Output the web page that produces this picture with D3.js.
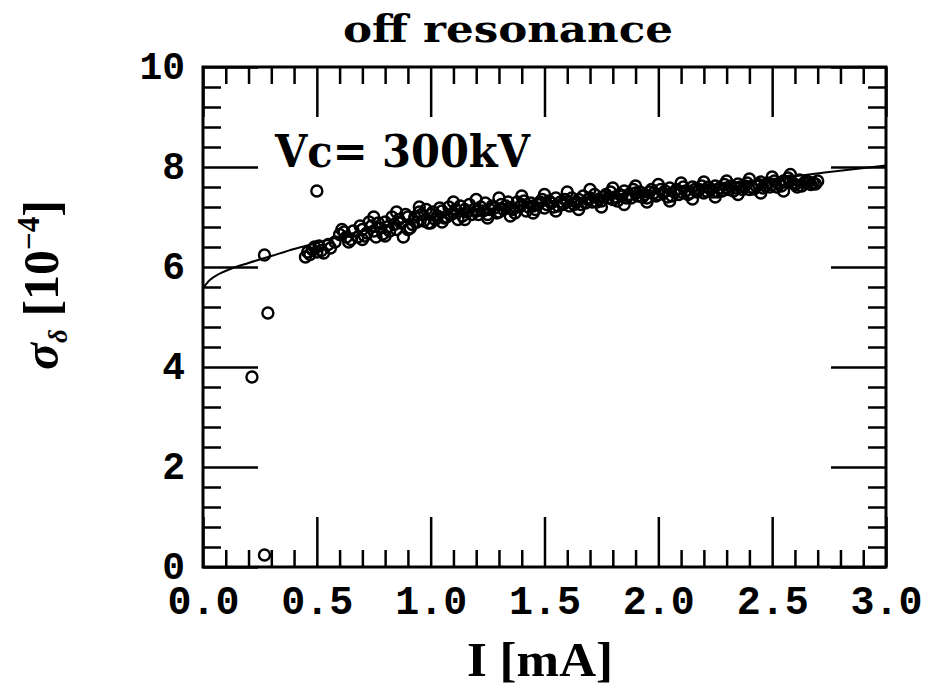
<!DOCTYPE html>
<html><head><meta charset="utf-8">
<script src="https://cdn.jsdelivr.net/npm/d3@7"></script>
<style>body{margin:0;background:#fff}</style>
</head><body>
<svg id="c" width="932" height="693"></svg>
<script>
const xMajor = [0.0, 0.5, 1.0, 1.5, 2.0, 2.5, 3.0];
const xMinor = [0.1,0.2,0.3,0.4,0.6,0.7,0.8,0.9,1.1,1.2,1.3,1.4,1.6,1.7,1.8,1.9,2.1,2.2,2.3,2.4,2.6,2.7,2.8,2.9];
const yMajor = [0, 2, 4, 6, 8, 10];
const yMinor = [0.4,0.8,1.2,1.6,2.4,2.8,3.2,3.6,4.4,4.8,5.2,5.6,6.4,6.8,7.2,7.6,8.4,8.8,9.2,9.6];
const xTickLabels = ["0.0","0.5","1.0","1.5","2.0","2.5","3.0"];
const yTickLabels = ["0","2","4","6","8","10"];

// measured points: current I [mA]
const current = [0.215,0.27,0.27,0.285,0.50,
 0.45,0.46,0.47,0.48,0.49,0.50,0.51,0.52,0.55,
 0.60,0.62,0.65,0.68,0.70,0.72,0.74,0.76,0.78,0.80,0.82,0.84,0.86,0.88,0.90,0.92,0.95,0.97,
 1.00,1.02,1.05,1.07,1.10,1.12,1.15,1.18,1.20,1.22,1.25,1.28,1.30,1.33,1.36,1.40,1.42,1.45,1.48,
 1.50,1.53,1.56,1.60,1.63,1.65,1.68,1.70,1.73,1.76,1.80,1.83,1.86,1.90,1.93,1.96,
 2.00,2.03,2.06,2.10,2.13,2.16,2.20,2.23,2.26,2.30,2.33,2.36,2.40,2.43,2.46,
 2.50,2.52,2.55,2.57,2.60,2.63,2.66,2.68,2.70,0.61,0.95,1.38,
 0.53,0.56,0.58,0.63,0.66,0.69,0.71,0.73,0.75,0.77,0.79,0.81,0.83,0.85,0.87,0.89,0.91,0.93,0.94,0.96,0.98,0.99,
 1.01,1.03,1.04,1.06,1.08,1.09,1.11,1.13,1.14,1.16,1.17,1.19,1.21,1.23,1.24,1.26,1.27,1.29,1.31,1.32,1.34,1.35,1.37,1.39,
 1.41,1.43,1.44,1.46,1.47,1.49,1.51,1.52,1.54,1.55,1.57,1.58,1.59,1.61,1.62,1.64,1.66,1.67,1.69,1.71,1.72,1.74,1.75,1.77,1.78,1.79,
 1.81,1.82,1.84,1.85,1.87,1.88,1.89,1.91,1.92,1.94,1.95,1.97,1.98,1.99,
 2.01,2.02,2.04,2.05,2.07,2.08,2.09,2.11,2.12,2.14,2.15,2.17,2.18,2.19,2.21,2.22,2.24,2.25,2.27,2.28,2.29,
 2.31,2.32,2.34,2.35,2.37,2.38,2.39,2.41,2.42,2.44,2.45,2.47,2.48,2.49,
 2.51,2.53,2.54,2.56,2.58,2.59,2.61,2.62,2.64,2.65,2.67,2.69,
 0.64,0.70,0.80,0.90,1.00,1.05,1.15,1.25,1.35,1.45,1.55,1.65,1.75,1.85,1.95,2.05,2.15,2.25,2.35,2.45,2.55,
 1.10,1.20,1.30,1.40,1.50,1.60,1.70,1.80,1.90,2.00,2.10,2.20,2.30,2.40,2.50,2.58,0.85,0.75];
// sigma_delta [1e-4]
const sigma = [3.8,0.24,6.24,5.08,7.52,
 6.2,6.3,6.25,6.35,6.4,6.3,6.42,6.33,6.45,
 6.65,6.7,6.55,6.6,6.75,6.68,6.82,6.6,6.78,6.9,6.72,6.85,6.95,6.6,7.0,6.85,7.1,6.92,
 7.05,6.95,7.12,7.0,7.08,6.95,7.15,7.05,7.12,7.2,7.05,7.18,7.1,7.22,7.15,7.25,7.12,7.22,7.3,
 7.18,7.28,7.22,7.3,7.25,7.35,7.28,7.38,7.3,7.4,7.35,7.45,7.38,7.48,7.4,7.5,
 7.45,7.52,7.42,7.5,7.45,7.55,7.48,7.55,7.5,7.58,7.52,7.6,7.55,7.62,7.58,
 7.65,7.6,7.72,7.78,7.65,7.62,7.7,7.68,7.72,6.75,7.2,7.3,
 6.28,6.38,6.5,6.6,6.72,6.82,6.62,6.9,6.72,6.88,6.66,6.8,7.0,6.75,6.88,7.05,6.78,7.0,6.9,7.05,7.15,6.88,
 7.1,7.02,7.18,6.98,7.2,7.05,7.15,7.22,7.02,7.1,7.25,7.15,7.05,7.12,7.28,7.15,7.22,7.08,7.25,7.15,7.3,7.18,7.08,7.2,
 7.32,7.2,7.28,7.15,7.25,7.35,7.25,7.32,7.2,7.38,7.3,7.25,7.35,7.22,7.38,7.3,7.25,7.42,7.35,7.3,7.45,7.36,7.32,7.45,7.38,7.5,
 7.4,7.32,7.42,7.52,7.45,7.38,7.55,7.42,7.5,7.45,7.38,7.55,7.48,7.42,
 7.55,7.48,7.4,7.58,7.5,7.55,7.45,7.6,7.52,7.48,7.6,7.5,7.55,7.62,7.52,7.6,7.5,7.62,7.58,7.52,7.65,
 7.55,7.62,7.58,7.66,7.55,7.62,7.68,7.6,7.56,7.65,7.7,7.62,7.68,7.6,
 7.72,7.66,7.62,7.7,7.72,7.68,7.6,7.74,7.68,7.72,7.65,7.66,
 6.5,6.55,6.62,6.75,6.88,6.9,6.95,6.98,7.02,7.08,7.12,7.15,7.2,7.25,7.3,7.32,7.36,7.4,7.45,7.48,7.52,
 7.3,7.35,7.38,7.42,7.45,7.5,7.55,7.58,7.62,7.65,7.68,7.7,7.72,7.76,7.8,7.85,7.1,7.0];

// fit curve
const fitI = [0.0,0.03,0.07,0.12,0.2,0.3,0.4,0.5,0.75,1.0,1.25,1.5,1.75,2.0,2.25,2.5,2.75,3.0];
const fitS = [5.58,5.74,5.86,5.96,6.08,6.22,6.36,6.48,6.78,7.0,7.16,7.3,7.42,7.54,7.65,7.76,7.9,8.03];

const svg = d3.select("#c");
const L = 203, R = 886, T = 67, B = 567;
const x = d3.scaleLinear().domain([0,3]).range([L,R]);
const y = d3.scaleLinear().domain([0,10]).range([B,T]);
const font = "'Liberation Mono', 'Courier New', monospace";
const serif = "'DejaVu Serif', 'Liberation Serif', serif";

function styleAxis(g){ g.select(".domain").remove(); g.selectAll("line").attr("stroke","#000").attr("stroke-width",2.5); }

// bottom
svg.append("g").attr("transform",`translate(0,${B})`)
  .call(d3.axisBottom(x).tickValues(xMajor).tickSize(-50).tickPadding(19).tickFormat((d,i)=>xTickLabels[i]))
  .call(styleAxis)
  .selectAll("text").attr("font-family",font).attr("font-weight","bold").attr("font-size",40).attr("fill","#000");
svg.append("g").attr("transform",`translate(0,${B})`)
  .call(d3.axisBottom(x).tickValues(xMinor).tickSize(-17).tickFormat("")).call(styleAxis);
// top
svg.append("g").attr("transform",`translate(0,${T})`)
  .call(d3.axisTop(x).tickValues(xMajor).tickSize(-50).tickFormat("")).call(styleAxis);
svg.append("g").attr("transform",`translate(0,${T})`)
  .call(d3.axisTop(x).tickValues(xMinor).tickSize(-17).tickFormat("")).call(styleAxis);
// left
svg.append("g").attr("transform",`translate(${L},0)`)
  .call(d3.axisLeft(y).tickValues(yMajor).tickSize(-55).tickPadding(18).tickFormat((d,i)=>yTickLabels[i]))
  .call(styleAxis)
  .selectAll("text").attr("font-family",font).attr("font-weight","bold").attr("font-size",38).attr("fill","#000")
  .attr("dy","0.3em");
svg.append("g").attr("transform",`translate(${L},0)`)
  .call(d3.axisLeft(y).tickValues(yMinor).tickSize(-18).tickFormat("")).call(styleAxis);
// right
svg.append("g").attr("transform",`translate(${R},0)`)
  .call(d3.axisRight(y).tickValues(yMajor).tickSize(-55).tickFormat("")).call(styleAxis);
svg.append("g").attr("transform",`translate(${R},0)`)
  .call(d3.axisRight(y).tickValues(yMinor).tickSize(-18).tickFormat("")).call(styleAxis);

// frame
svg.append("rect").attr("x",L).attr("y",T).attr("width",R-L).attr("height",B-T)
  .attr("fill","none").attr("stroke","#000").attr("stroke-width",3);

// fit line
const line = d3.line().x((d,i)=>x(fitI[i])).y((d,i)=>y(fitS[i])).curve(d3.curveMonotoneX);
svg.append("path").datum(fitI).attr("d",line).attr("fill","none").attr("stroke","#000").attr("stroke-width",2);

// points
svg.append("g").selectAll("circle").data(current).join("circle")
  .attr("cx",(d)=>x(d)).attr("cy",(d,i)=>y(sigma[i])).attr("r",5.5)
  .attr("fill","none").attr("stroke","#000").attr("stroke-width",2.4);

// title
svg.append("text").attr("x",508).attr("y",42).attr("text-anchor","middle")
  .attr("font-family",serif).attr("font-weight","bold").attr("font-size",38)
  .attr("textLength",330).attr("lengthAdjust","spacingAndGlyphs").text("off resonance");
// annotation
svg.append("text").attr("x",275).attr("y",167)
  .attr("font-family",serif).attr("font-weight","bold").attr("font-size",44)
  .attr("textLength",255).attr("lengthAdjust","spacingAndGlyphs").text("Vc= 300kV");
// x label
svg.append("text").attr("x",467).attr("y",676)
  .attr("font-family","'Liberation Serif', serif").attr("font-weight","bold").attr("font-size",48)
  .attr("textLength",146).attr("lengthAdjust","spacingAndGlyphs").text("I [mA]");
// y label
const yl = svg.append("text").attr("transform","translate(58,285) rotate(-90)").attr("text-anchor","middle")
  .attr("font-family","'Liberation Serif', serif").attr("font-weight","bold").attr("font-size",50);
yl.append("tspan").attr("font-style","italic").text("σ");
yl.append("tspan").attr("font-size",27).attr("dy",9).attr("font-style","italic").text("δ");
yl.append("tspan").attr("dy",-9).text("  [10");
yl.append("tspan").attr("font-size",31).attr("dy",-19).text("−4");
yl.append("tspan").attr("dy",19).text("]");
</script>
</body></html>
